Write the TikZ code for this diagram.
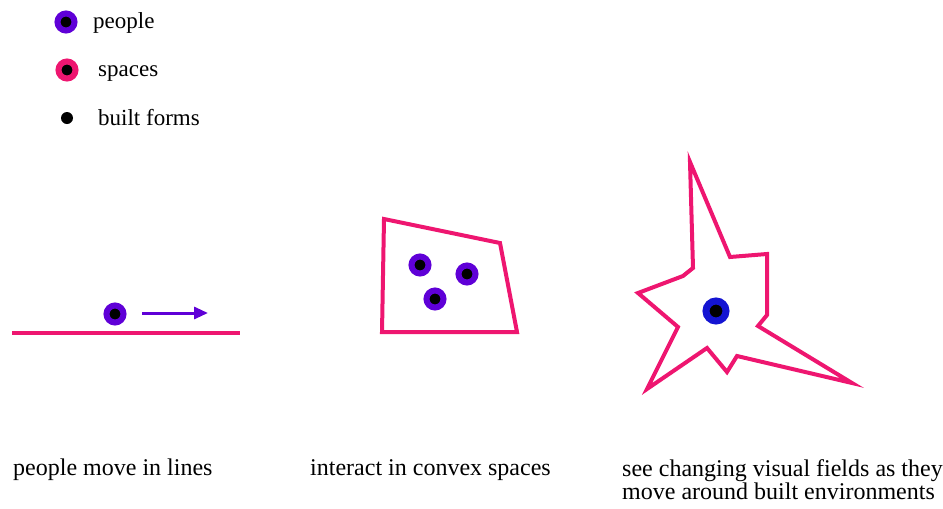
\documentclass[tikz,border=0pt]{standalone}
\usepackage{fontspec}
\setmainfont{Liberation Serif}
\usetikzlibrary{arrows.meta}
\definecolor{pinkc}{RGB}{238,22,112}
\definecolor{purp}{RGB}{95,0,215}
\definecolor{bluec}{RGB}{20,20,210}
\tikzset{
  person/.style={circle,fill=black,draw=purp,line width=6pt,minimum size=17pt,inner sep=0pt},
  spacedot/.style={circle,fill=black,draw=pinkc,line width=6pt,minimum size=17pt,inner sep=0pt},
  builtdot/.style={circle,fill=black,minimum size=12pt,inner sep=0pt},
  viewer/.style={circle,fill=black,draw=bluec,line width=7pt,minimum size=20pt,inner sep=0pt},
  spaceline/.style={draw=pinkc,line width=4pt,line join=miter},
  lbl/.style={font=\fontsize{23}{26}\selectfont,anchor=base west,inner sep=0pt},
  captxt/.style={font=\fontsize{24}{23}\selectfont,anchor=base west,inner sep=0pt,align=left}
}
\begin{document}
\begin{tikzpicture}[x=1pt,y=-1pt]
\useasboundingbox (0,0) rectangle (943,509);
% legend
\node[person] (lp) at (66,22) {};
\node[lbl] (lpt) at (93,28) {people};
\node[spacedot] (ls) at (67,70) {};
\node[lbl] (lst) at (98,76) {spaces};
\node[builtdot] (lb) at (67,118) {};
\node[lbl] (lbt) at (98,125) {built forms};
% line
\coordinate (l1) at (12,333);
\coordinate (l2) at (240,333);
\draw[spaceline] (l1) -- (l2);
\node[person] (p1) at (115,314) {};
\coordinate (a1) at (142,313);
\coordinate (a2) at (208,313);
\draw[purp,line width=3pt,-{Triangle[length=14pt,width=12pt]}] (a1) -- (a2);
% convex space
\draw[spaceline] (384,219) -- (500,243) -- (517,332) -- (382,332) -- cycle;
\node[person] (p2) at (420,265) {};
\node[person] (p3) at (467,274) {};
\node[person] (p4) at (435,299) {};
% star
\draw[spaceline] (690,162) -- (730,257) -- (767,254) -- (767,315) -- (758,326) -- (852,383) -- (737,356) -- (727,372) -- (707,348) -- (647,389) -- (678,327) -- (638,293) -- (683,276) -- (693,268) -- cycle;
\node[viewer] (v) at (716,311) {};
% captions
\node[captxt] (c1) at (13,475) {people move in lines};
\node[captxt] (c2) at (310,475) {interact in convex spaces};
\node[captxt] (c3) at (622,499) {see changing visual fields as they\\move around built environments};
\end{tikzpicture}
\end{document}
